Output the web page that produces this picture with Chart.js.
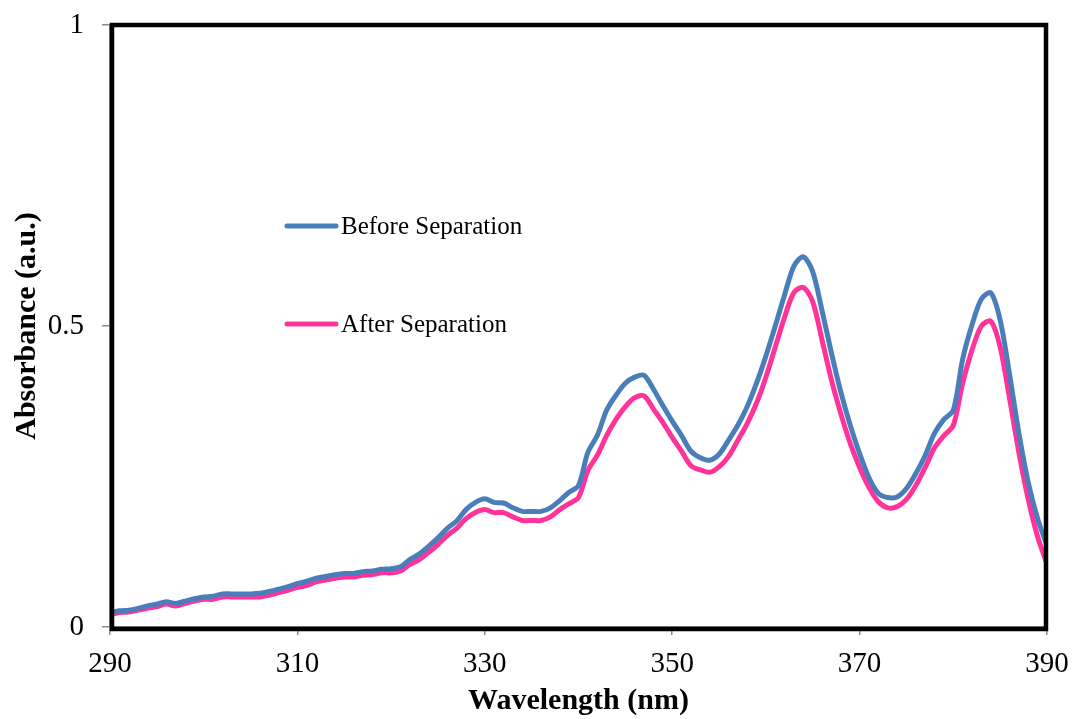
<!DOCTYPE html>
<html lang="en">
<head>
  <meta charset="UTF-8">
  <title>Absorbance spectrum</title>
  <script src="https://cdn.jsdelivr.net/npm/chart.js"></script>
  <style>
    html, body { margin: 0; padding: 0; background: #ffffff; }
    #wrap { width: 1072px; height: 719px; position: relative; }
  </style>
</head>
<body>
  <div id="wrap"><canvas id="spectrum"></canvas></div>

  <script>
    // wavelengths 290..390 nm, 1 nm step
    const wavelengths = [];
    for (let w = 290; w <= 390; w++) wavelengths.push(w);

    const beforeSeparation = [
      0.024, 0.027, 0.028, 0.031, 0.035, 0.038, 0.042, 0.039, 0.043, 0.047,
      0.050, 0.051, 0.055, 0.055, 0.055, 0.055, 0.056, 0.059, 0.063, 0.067,
      0.072, 0.076, 0.081, 0.084, 0.087, 0.089, 0.089, 0.092, 0.093, 0.096,
      0.097, 0.100, 0.112, 0.121, 0.134, 0.148, 0.164, 0.176, 0.195, 0.207,
      0.213, 0.207, 0.206, 0.198, 0.192, 0.192, 0.192, 0.198, 0.210, 0.224,
      0.235, 0.290, 0.318, 0.360, 0.385, 0.405, 0.415, 0.418, 0.395, 0.368,
      0.342, 0.318, 0.292, 0.281, 0.277, 0.287, 0.310, 0.335, 0.366, 0.405,
      0.450, 0.500, 0.552, 0.600, 0.615, 0.590, 0.525, 0.455, 0.390, 0.335,
      0.288, 0.248, 0.222, 0.215, 0.216, 0.230, 0.255, 0.285, 0.322, 0.345,
      0.360, 0.445, 0.502, 0.545, 0.555, 0.510, 0.420, 0.322, 0.240, 0.180,
      0.135
    ];

    const afterSeparation = [
      0.020, 0.024, 0.025, 0.028, 0.031, 0.034, 0.038, 0.035, 0.039, 0.043,
      0.046, 0.046, 0.050, 0.050, 0.050, 0.050, 0.050, 0.053, 0.057, 0.061,
      0.066, 0.069, 0.075, 0.078, 0.081, 0.083, 0.083, 0.086, 0.087, 0.090,
      0.090, 0.093, 0.104, 0.112, 0.124, 0.137, 0.152, 0.164, 0.180, 0.190,
      0.195, 0.190, 0.190, 0.183, 0.177, 0.177, 0.177, 0.183, 0.195, 0.205,
      0.215, 0.260, 0.285, 0.318, 0.345, 0.366, 0.381, 0.384, 0.362, 0.340,
      0.315, 0.292, 0.268, 0.261, 0.257, 0.266, 0.283, 0.310, 0.338, 0.372,
      0.415, 0.465, 0.515, 0.556, 0.564, 0.540, 0.476, 0.410, 0.354, 0.305,
      0.265, 0.232, 0.208, 0.198, 0.200, 0.212, 0.235, 0.265, 0.298, 0.318,
      0.335, 0.405, 0.460, 0.500, 0.508, 0.465, 0.380, 0.290, 0.212, 0.150,
      0.105
    ];

    const seriesLabels = ['Before Separation', 'After Separation'];
    const seriesColors = ['#4a7ebb', '#ff3399'];

    const serif = '"Liberation Serif", "Times New Roman", serif';

    function toPoints(values) {
      return wavelengths.map((w, i) => ({ x: w, y: values[i] }));
    }

    // legend sits inside the plot, drawn by hand
    const insideLegend = {
      id: 'insideLegend',
      afterDraw(chart) {
        const ctx = chart.ctx;
        const area = chart.chartArea;
        const rows = [226, 324];
        ctx.save();
        chart.data.datasets.forEach((ds, i) => {
          const y = rows[i];
          ctx.strokeStyle = ds.borderColor;
          ctx.lineWidth = 5;
          ctx.lineCap = 'round';
          ctx.beginPath();
          ctx.moveTo(area.left + 177, y);
          ctx.lineTo(area.left + 226, y);
          ctx.stroke();
          ctx.fillStyle = '#000000';
          ctx.font = '25px ' + serif;
          ctx.textBaseline = 'middle';
          ctx.textAlign = 'left';
          ctx.fillText(ds.label, area.left + 231, y + 1);
        });
        ctx.restore();
      }
    };

    // heavy black box round the plot area
    const plotFrame = {
      id: 'plotFrame',
      afterDraw(chart) {
        const ctx = chart.ctx;
        const a = chart.chartArea;
        ctx.save();
        ctx.strokeStyle = '#000000';
        ctx.lineWidth = 4.5;
        ctx.strokeRect(a.left + 2, a.top, a.right - a.left - 3, a.bottom - a.top + 2);
        ctx.restore();
      }
    };

    const ctx = document.getElementById('spectrum').getContext('2d');
    new Chart(ctx, {
      type: 'line',
      data: {
        datasets: [
          {
            label: seriesLabels[0],
            data: toPoints(beforeSeparation),
            borderColor: seriesColors[0],
            borderWidth: 5,
            pointRadius: 0,
            tension: 0.3,
            fill: false
          },
          {
            label: seriesLabels[1],
            data: toPoints(afterSeparation),
            borderColor: seriesColors[1],
            borderWidth: 5,
            pointRadius: 0,
            tension: 0.3,
            fill: false
          }
        ]
      },
      options: {
        responsive: true,
        maintainAspectRatio: false,
        animation: false,
        layout: { padding: { top: 25, right: 25, left: 0, bottom: 0 } },
        plugins: {
          legend: { display: false },
          tooltip: { enabled: false }
        },
        scales: {
          x: {
            type: 'linear',
            min: 290,
            max: 390,
            afterFit(scale) {
              scale.height = 92;
              scale.paddingLeft = 0;
              scale.paddingRight = 0;
            },
            ticks: {
              stepSize: 20,
              color: '#000000',
              padding: 12,
              font: { family: serif, size: 29 }
            },
            grid: {
              drawOnChartArea: false,
              color: '#8c8c8c',
              tickLength: 8,
              lineWidth: 1.5
            },
            border: { color: '#8c8c8c', width: 2 },
            title: {
              display: true,
              text: 'Wavelength (nm)',
              color: '#000000',
              padding: { top: 0, bottom: 0 },
              font: { family: serif, size: 30, weight: 'bold' }
            }
          },
          y: {
            min: 0,
            max: 1,
            afterFit(scale) {
              scale.width = 110;
              scale.paddingTop = 0;
              scale.paddingBottom = 0;
            },
            ticks: {
              stepSize: 0.5,
              color: '#000000',
              padding: 18,
              font: { family: serif, size: 29 },
              callback: (v) => String(v)
            },
            grid: {
              drawOnChartArea: false,
              color: '#8c8c8c',
              tickLength: 8,
              lineWidth: 1.5
            },
            border: { color: '#8c8c8c', width: 2 },
            title: {
              display: true,
              text: 'Absorbance (a.u.)',
              color: '#000000',
              padding: { top: 9, bottom: 0 },
              font: { family: serif, size: 30, weight: 'bold' }
            }
          }
        }
      },
      plugins: [insideLegend, plotFrame]
    });
  </script>
</body>
</html>
